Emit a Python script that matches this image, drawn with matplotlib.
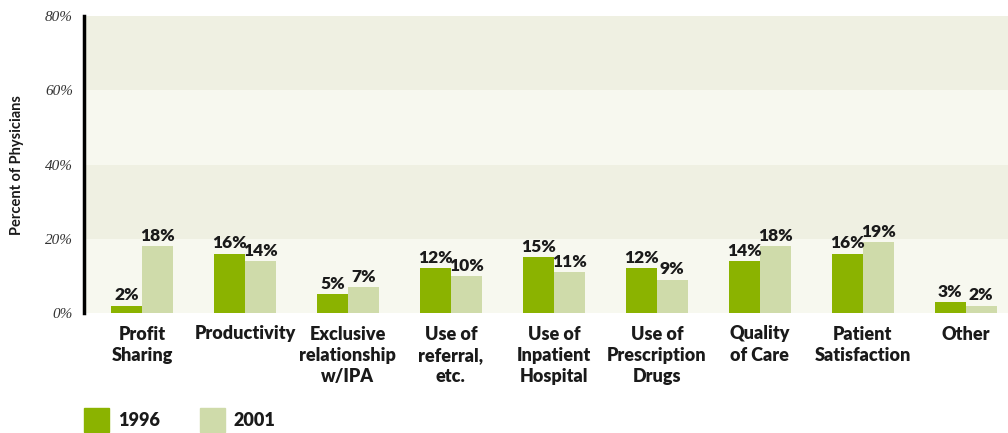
import numpy as np
import matplotlib
matplotlib.use("Agg")
import matplotlib.pyplot as plt
from matplotlib.patches import Rectangle

# Incentive factors, percent of physicians
categories = ["Profit\nSharing", "Productivity", "Exclusive\nrelationship\nw/IPA",
              "Use of\nreferral,\netc.", "Use of\nInpatient\nHospital",
              "Use of\nPrescription\nDrugs", "Quality\nof Care",
              "Patient\nSatisfaction", "Other"]
pct_1996 = [2, 16, 5, 12, 15, 12, 14, 16, 3]
pct_2001 = [18, 14, 7, 10, 11, 9, 18, 19, 2]
series_names = ["1996", "2001"]
yticks = [0, 20, 40, 60, 80]

C_1996 = "#8bb300"
C_2001 = "#cfdbaa"
BAND_DARK = "#eff0e2"
BAND_LIGHT = "#f7f8ef"
FONT = "Lato"
WEIGHT = "heavy"

fig = plt.figure(figsize=(10.08, 4.33), dpi=100)
ax = fig.add_axes([84 / 1008, 1 - 313 / 433, 924 / 1008, 297 / 433])

x = np.arange(len(categories))
w = 0.3
ax.set_xlim(-0.563, len(categories) - 1 + 0.41)
ax.set_ylim(0, 80)

# alternating horizontal bands
for i, (lo, hi) in enumerate(zip(yticks[:-1], yticks[1:])):
    ax.axhspan(lo, hi, color=BAND_LIGHT if i % 2 == 0 else BAND_DARK, zorder=0, lw=0)

ax.bar(x - w / 2, pct_1996, w, color=C_1996, zorder=2)
ax.bar(x + w / 2, pct_2001, w, color=C_2001, zorder=2)

lab_kw = dict(ha="center", va="bottom", fontsize=12.5, fontweight=WEIGHT,
              color="#1a1a1a", family=FONT)
for xi, a, b in zip(x, pct_1996, pct_2001):
    ax.text(xi - w / 2, a + 0.6, f"{a}%", **lab_kw)
    ax.text(xi + w / 2, b + 0.6, f"{b}%", **lab_kw)

ax.set_yticks(yticks)
ax.set_yticklabels([f"{t}%" for t in yticks], family="Liberation Serif",
                   style="italic", fontsize=11, color="#333333")
ax.tick_params(axis="y", length=0, pad=8)
ax.set_xticks(x)
ax.set_xticklabels(categories, fontsize=13, fontweight=WEIGHT, family=FONT,
                   color="#1a1a1a", linespacing=1.3)
ax.tick_params(axis="x", length=0, pad=9)

for s in ["top", "right", "bottom"]:
    ax.spines[s].set_visible(False)
ax.spines["left"].set_linewidth(2.5)
ax.spines["left"].set_color("black")

fig.text(17 / 1008, 1 - 165 / 433, "Percent of Physicians", rotation=90,
         ha="center", va="center", fontsize=10.5, fontweight="bold",
         family=FONT, color="#1a1a1a")

# legend drawn as swatches under the chart
for (x0, tx), name, col in zip([(84, 118), (200, 233)], series_names, [C_1996, C_2001]):
    fig.patches.append(Rectangle((x0 / 1008, 1 - 432 / 433), 25 / 1008, 24 / 433,
                                 transform=fig.transFigure, color=col))
    fig.text(tx / 1008, 1 - 421 / 433, name, ha="left", va="center",
             fontsize=13, fontweight=WEIGHT, family=FONT, color="#1a1a1a")

fig.savefig("out.png", dpi=100)
